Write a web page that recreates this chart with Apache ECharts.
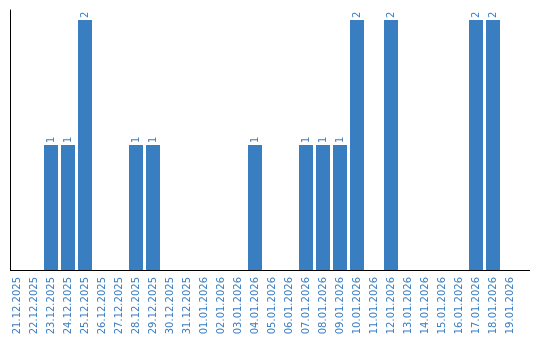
<!DOCTYPE html>
<html><head><meta charset="utf-8">
<script src="https://cdn.jsdelivr.net/npm/echarts@6/dist/echarts.min.js"></script>
<style>html,body{margin:0;padding:0;background:#fff}#c{width:540px;height:340px}</style>
</head><body><div id="c"></div>
<script>
const categories = ['21.12.2025','22.12.2025','23.12.2025','24.12.2025','25.12.2025','26.12.2025','27.12.2025','28.12.2025','29.12.2025','30.12.2025','31.12.2025','01.01.2026','02.01.2026','03.01.2026','04.01.2026','05.01.2026','06.01.2026','07.01.2026','08.01.2026','09.01.2026','10.01.2026','11.01.2026','12.01.2026','13.01.2026','14.01.2026','15.01.2026','16.01.2026','17.01.2026','18.01.2026','19.01.2026'];
const values = [0,0,1,1,2,0,0,1,1,0,0,0,0,0,1,0,0,1,1,1,2,0,2,0,0,0,0,2,2,0];
const color = '#3a7ec2';
const chart = echarts.init(document.getElementById('c'));
chart.setOption({
  animation: false,
  grid: {left: 8.5, right: 21.5, top: 10, bottom: 70},
  xAxis: {
    type: 'category', data: categories,
    axisLine: {show: false},
    axisTick: {show: false},
    axisLabel: {rotate: 90, color: color, fontSize: 10, fontFamily: 'DejaVu Sans', margin: 7, interval: 0}
  },
  yAxis: {
    type: 'value', min: 0, max: 2.08, offset: -2,
    axisLine: {show: true, lineStyle: {color: '#000', width: 1}},
    axisTick: {show: false}, axisLabel: {show: false}, splitLine: {show: false}
  },
  series: [{
    type: 'bar', data: values.map(v => v === 0 ? null : v), barWidth: 14,
    itemStyle: {color: color},
    label: {show: true, position: 'top', rotate: 90, align: 'left', verticalAlign: 'middle', distance: 2, color: color, fontSize: 10, fontFamily: 'DejaVu Sans'}
  }],
  graphic: [{type: 'line', z: 10, shape: {x1: 10, y1: 270.5, x2: 530, y2: 270.5}, style: {stroke: '#000', lineWidth: 1}}]
});
</script></body></html>
